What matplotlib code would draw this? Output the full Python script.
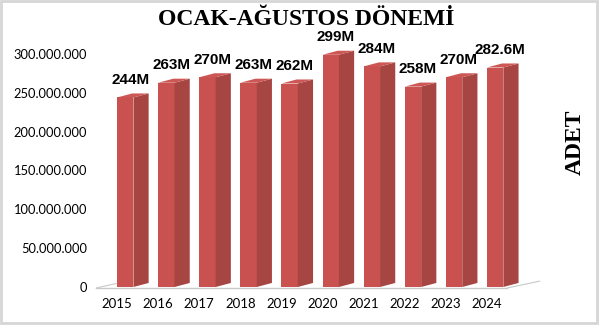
import matplotlib
matplotlib.use("Agg")
import matplotlib.pyplot as plt
from matplotlib.patches import Polygon, Rectangle
from matplotlib.ticker import FuncFormatter

years = ["2015", "2016", "2017", "2018", "2019", "2020", "2021", "2022", "2023", "2024"]
values = [244e6, 263e6, 270e6, 263e6, 262e6, 299e6, 284e6, 258e6, 270e6, 282.6e6]
labels = ["244M", "263M", "270M", "263M", "262M", "299M", "284M", "258M", "270M", "282.6M"]
yticks = [0, 50e6, 100e6, 150e6, 200e6, 250e6, 300e6]

FRONT, SIDE, TOP = "#c9514f", "#a64542", "#cd5754"
W, DX, DY = 0.40, 0.37, 5.2e6

fig = plt.figure(figsize=(6.0, 3.26), dpi=100)
ax = fig.add_axes([0.16075, 0.11963, 0.7535, 0.7624])
ax.set_xlim(-0.5, 10.5)
ax.set_ylim(0, 320e6)

# floor
ax.plot([-0.5, 9.5], [-1.2e6, -1.2e6], color="#c8c8c8", lw=1, clip_on=False)
ax.plot([-0.5, -0.02], [-1.2e6, 4.5e6], color="#c8c8c8", lw=0.8, clip_on=False)
ax.plot([9.5, 10.28], [-1.2e6, 7.5e6], color="#c8c8c8", lw=0.8, clip_on=False)

x = list(range(len(years)))
ax.bar(x, values, width=W, align="edge", color=FRONT, zorder=3)
for i, v in zip(x, values):
    side = [(i + W, 0), (i + W + DX, DY), (i + W + DX, v + DY), (i + W, v)]
    top = [(i, v), (i + W, v), (i + W + DX, v + DY), (i + DX, v + DY)]
    ax.add_patch(Polygon(side, closed=True, color=SIDE, zorder=3, lw=0))
    ax.add_patch(Polygon(top, closed=True, color=TOP, zorder=3, lw=0))

for i, v, t in zip(x, values, labels):
    ax.annotate(t, (i + 0.32, v), xytext=(0, 7.5), textcoords="offset points",
                ha="center", va="bottom", fontsize=11, fontweight="bold",
                family="Liberation Sans")

ax.set_xticks(x)
ax.set_xticklabels(years, fontsize=9.5, family="Lato")
ax.set_yticks(yticks)
ax.yaxis.set_major_formatter(FuncFormatter(lambda v, p: f"{int(v):,}".replace(",", ".")))
for lab in ax.get_yticklabels():
    lab.set_fontfamily("Lato")
    lab.set_fontsize(9.3)
ax.tick_params(axis="y", length=0, pad=6.8)
ax.tick_params(axis="x", length=0, pad=8)
for s in ax.spines.values():
    s.set_visible(False)

fig.text(0.511, 0.94, "OCAK-AĞUSTOS DÖNEMİ", ha="center", va="center",
         fontsize=17, fontweight="bold", family="Liberation Serif")
fig.text(0.958, 0.564, "ADET", ha="center", va="center", rotation=90,
         fontsize=17, fontweight="bold", family="Liberation Serif")

fig.patches.append(Rectangle((0.002, 0.009), 0.993, 0.988, transform=fig.transFigure,
                             fill=False, edgecolor="#d6d6d6", lw=2))

fig.savefig("out.png", dpi=100)
